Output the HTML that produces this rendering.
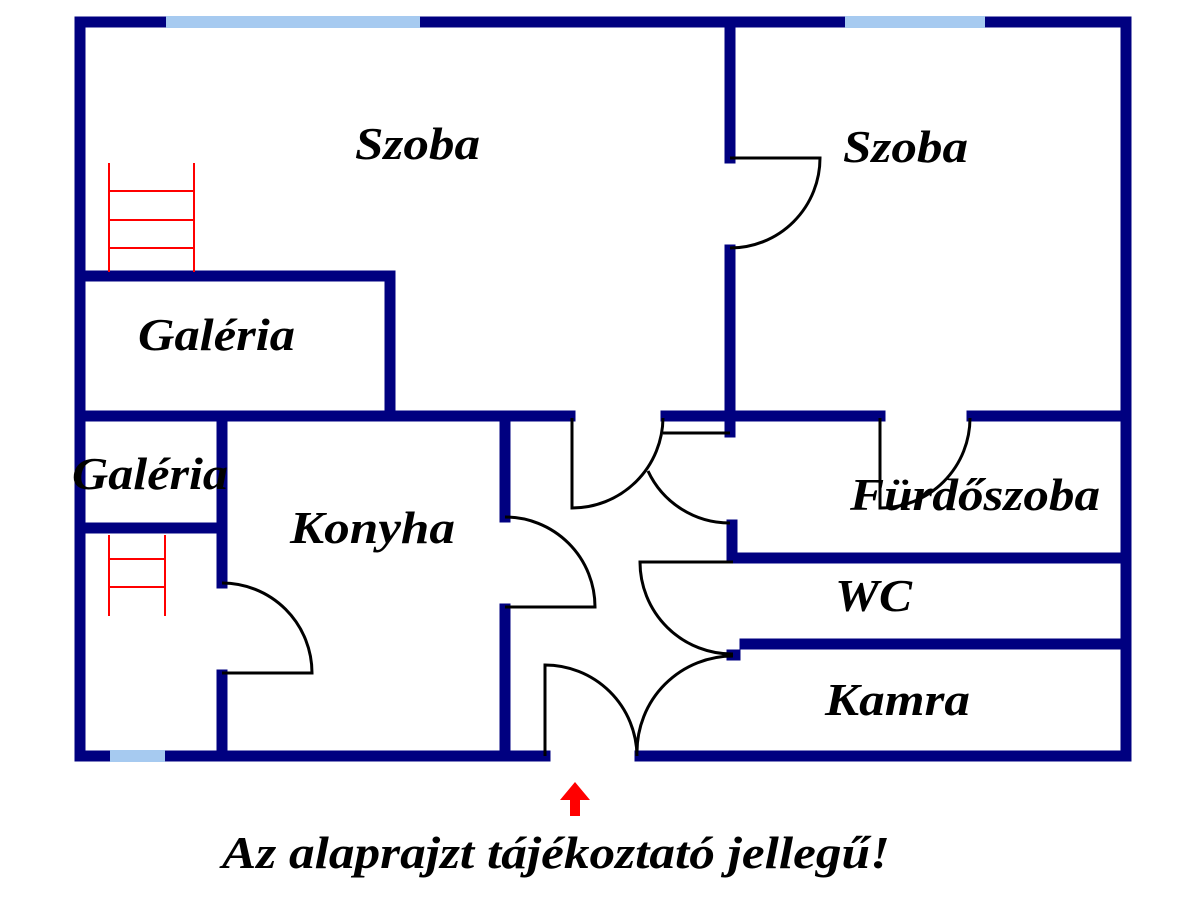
<!DOCTYPE html>
<html><head><style>body{margin:0;background:#fff}svg{display:block}</style></head>
<body>
<svg width="1200" height="900" viewBox="0 0 1200 900" xmlns="http://www.w3.org/2000/svg">
<rect width="1200" height="900" fill="#fff"/>
<g stroke="#000080" stroke-width="11" fill="none" stroke-linecap="square">
<line x1="80" y1="22" x2="1126" y2="22"/>
<line x1="80" y1="22" x2="80" y2="756"/>
<line x1="1126" y1="22" x2="1126" y2="756"/>
<line x1="80" y1="756" x2="545" y2="756"/>
<line x1="640" y1="756" x2="1126" y2="756"/>
<line x1="730" y1="22" x2="730" y2="158"/>
<line x1="730" y1="250" x2="730" y2="432"/>
<line x1="80" y1="276" x2="390" y2="276"/>
<line x1="390" y1="276" x2="390" y2="415"/>
<line x1="80" y1="416" x2="570" y2="416"/>
<line x1="666" y1="416" x2="880" y2="416"/>
<line x1="972" y1="416" x2="1126" y2="416"/>
<line x1="80" y1="528" x2="222" y2="528"/>
<line x1="222" y1="416" x2="222" y2="583"/>
<line x1="222" y1="675" x2="222" y2="756"/>
<line x1="505" y1="416" x2="505" y2="517"/>
<line x1="505" y1="609" x2="505" y2="756"/>
<line x1="732" y1="525" x2="732" y2="558"/>
<line x1="732" y1="558" x2="1126" y2="558"/>
<line x1="745" y1="644" x2="1126" y2="644"/>
<line x1="732" y1="655" x2="735" y2="655"/>
</g>
<g stroke="#a6caf0" stroke-width="12">
<line x1="166" y1="22" x2="420" y2="22"/>
<line x1="845" y1="22" x2="985" y2="22"/>
<line x1="110" y1="756" x2="165" y2="756"/>
</g>
<g stroke="#000" stroke-width="3" fill="none">
<path d="M730 158 H820 A90 90 0 0 1 730 248"/>
<path d="M572 418 V508 A91 91 0 0 0 663 418"/>
<path d="M663 433 H730"/>
<path d="M648 471 A90 90 0 0 0 730 523"/>
<path d="M880 418 V508 A90 90 0 0 0 970 418"/>
<path d="M222 583 A90 90 0 0 1 312 673 H222"/>
<path d="M505 517 A90 90 0 0 1 595 607 H505"/>
<path d="M545 756 V665 A92 92 0 0 1 637 756"/>
<path d="M637 752 A96 96 0 0 1 733 656"/>
<path d="M733 562 H640 A92 92 0 0 0 733 654"/>
</g>
<g stroke="#f00" stroke-width="2">
<line x1="109" y1="163" x2="109" y2="272"/><line x1="194" y1="163" x2="194" y2="272"/>
<line x1="109" y1="191" x2="194" y2="191"/><line x1="109" y1="220" x2="194" y2="220"/><line x1="109" y1="248" x2="194" y2="248"/>
<line x1="109" y1="535" x2="109" y2="616"/><line x1="165" y1="535" x2="165" y2="616"/>
<line x1="109" y1="559" x2="165" y2="559"/><line x1="109" y1="587" x2="165" y2="587"/>
</g>
<polygon points="575,782 590,800 580,800 580,816 570,816 570,800 560,800" fill="#f00"/>
<g font-family="Liberation Serif, serif" font-weight="bold" font-style="italic" font-size="46" fill="#000" lengthAdjust="spacingAndGlyphs">
<text x="355" y="159" textLength="125" lengthAdjust="spacingAndGlyphs">Szoba</text>
<text x="843" y="162" textLength="125" lengthAdjust="spacingAndGlyphs">Szoba</text>
<text x="138" y="350" textLength="157" lengthAdjust="spacingAndGlyphs">Galéria</text>
<text x="72" y="489" textLength="156" lengthAdjust="spacingAndGlyphs">Galéria</text>
<text x="290" y="543" textLength="165" lengthAdjust="spacingAndGlyphs">Konyha</text>
<text x="850" y="510" textLength="250" lengthAdjust="spacingAndGlyphs">Fürdőszoba</text>
<text x="835" y="611" textLength="77" lengthAdjust="spacingAndGlyphs">WC</text>
<text x="825" y="715" textLength="145" lengthAdjust="spacingAndGlyphs">Kamra</text>
<text x="222" y="868" textLength="668" lengthAdjust="spacingAndGlyphs">Az alaprajzt tájékoztató jellegű!</text>
</g>
</svg>
</body></html>
